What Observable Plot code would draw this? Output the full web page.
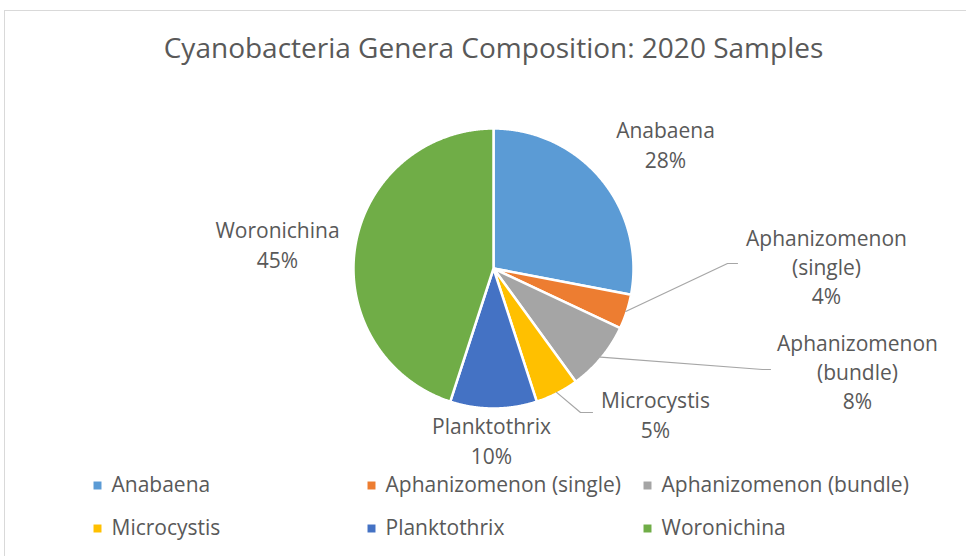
<!DOCTYPE html>
<html><head><meta charset="utf-8">
<script src="https://cdn.jsdelivr.net/npm/d3@7"></script>
<script src="https://cdn.jsdelivr.net/npm/@observablehq/plot@0.6"></script>
<style>body{margin:0;background:#fff;} svg{display:block}</style>
</head><body><div id="chart"></div>
<script>
// ---- data ----
const title = "Cyanobacteria Genera Composition: 2020 Samples";
const genera = ["Anabaena", "Aphanizomenon (single)", "Aphanizomenon (bundle)", "Microcystis", "Planktothrix", "Woronichina"];
const shares = [28, 4, 8, 5, 10, 45];
const colors = ["#5B9BD5", "#ED7D31", "#A5A5A5", "#FFC000", "#4472C4", "#70AD47"];
const labelNames = ["Anabaena", "Aphanizomenon\n(single)", "Aphanizomenon\n(bundle)", "Microcystis", "Planktothrix", "Woronichina"];

// ---- layout (pixel positions) ----
const W = 966, H = 556;
const cx = 493, cy = 268, R = 140;
const labelPos = [[665, 143], [826, 265], [857, 370], [655, 413], [491, 439], [277, 243]];
const leaderPath = [null, [[727, 263], [737, 263]], [[762, 369], [770, 369]], [[580, 412], [592, 412]], null, null];
const legendCols = [97, 371, 647];
const legendRows = [485, 528];
const FONT = "Open Sans";
const TXT = "#595959";

const pie = d3.pie().sort(null).value(d => d)(shares);

// wedge polygons
const wedgePts = [];
pie.forEach((p, i) => {
  const g = genera[i];
  wedgePts.push({g, x: cx, y: cy});
  const n = Math.max(4, Math.ceil((p.endAngle - p.startAngle) / 0.005));
  for (let k = 0; k <= n; k++) {
    const a = p.startAngle + (p.endAngle - p.startAngle) * k / n;
    wedgePts.push({g, x: cx + R * Math.sin(a), y: cy - R * Math.cos(a)});
  }
  wedgePts.push({g, x: cx, y: cy});
});

// leader lines
const leaderPts = [];
pie.forEach((p, i) => {
  if (!leaderPath[i]) return;
  const a = (p.startAngle + p.endAngle) / 2;
  leaderPts.push({g: genera[i], x: cx + (R - 1) * Math.sin(a), y: cy - (R - 1) * Math.cos(a)});
  leaderPath[i].forEach(([x, y]) => leaderPts.push({g: genera[i], x, y}));
});

const labels = genera.map((g, i) => ({
  g, x: labelPos[i][0], y: labelPos[i][1],
  text: labelNames[i] + "\n" + shares[i] + "%"
}));

const legend = genera.map((g, i) => ({
  g, x: legendCols[i % 3], y: legendRows[Math.floor(i / 3)]
}));

const chart = Plot.plot({
  width: W, height: H,
  margin: 0,
  x: {domain: [0, W], range: [0, W], axis: null},
  y: {domain: [0, H], range: [0, H], axis: null},
  color: {domain: genera, range: colors},
  style: {fontFamily: FONT, background: "#fff"},
  marks: [
    Plot.rect([0], {x1: () => 4.5, x2: () => W + 20, y1: () => 10.5, y2: () => H + 20, fill: "none", stroke: "#D9D9D9", strokeWidth: 1}),
    Plot.text([title], {x: () => 493, y: () => 49, text: d => d, fontSize: 28, fill: TXT}),
    Plot.line(wedgePts, {x: "x", y: "y", z: "g", fill: "g", stroke: "white", strokeWidth: 2.5, strokeLinejoin: "round"}),
    Plot.line(leaderPts, {x: "x", y: "y", z: "g", stroke: "#A6A6A6", strokeWidth: 1.2}),
    Plot.text(labels, {x: "x", y: "y", text: "text", fontSize: 21, lineHeight: 1.4, fill: TXT, lineAnchor: "middle"}),
    Plot.dot(legend, {x: "x", y: "y", fill: "g", symbol: "square", r: 4.5}),
    Plot.text(legend, {x: d => d.x + 14, y: "y", text: "g", textAnchor: "start", fontSize: 21, fill: TXT})
  ]
});
document.getElementById("chart").appendChild(chart);
</script>
</body></html>
